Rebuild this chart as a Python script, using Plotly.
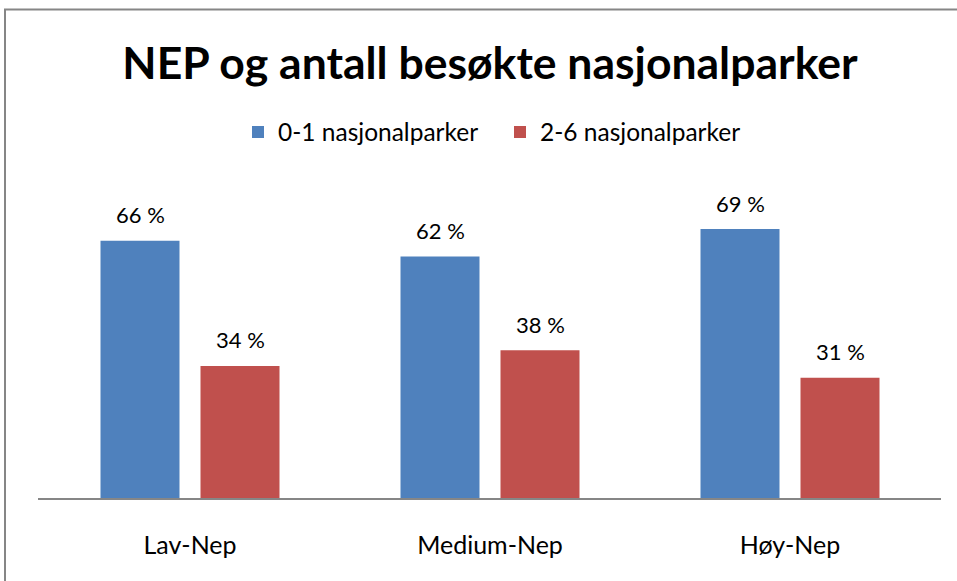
import plotly.graph_objects as go

categories = ["Lav-Nep", "Medium-Nep", "Høy-Nep"]
series_names = ["0-1 nasjonalparker", "2-6 nasjonalparker"]
values_01 = [66, 62, 69]
values_26 = [34, 38, 31]
colors = ["#4F81BD", "#C0504D"]

W, H = 957, 581
L, R = 40, 940
T, B = 186, 499
FONT = "Lato"

fig = go.Figure()
annotations = []
for i, (name, vals, c) in enumerate(zip(series_names, [values_01, values_26], colors)):
    fig.add_trace(go.Bar(
        x=categories, y=vals, name=name, marker_color=c,
        marker_line_width=0,
    ))
    for cat, v in zip(categories, vals):
        annotations.append(dict(
            x=cat, y=v, xref="x", yref="y", text=f"{v} %", showarrow=False,
            xshift=-50 if i == 0 else 50, yshift=26, yanchor="middle",
            font=dict(size=22, family=FONT, color="#000000"),
        ))

def px(xp):
    return (xp - L) / (R - L)

def py(yp):
    return (B - yp) / (B - T)

fig.update_layout(
    width=W, height=H,
    margin=dict(l=L, r=W - R, t=T, b=H - B),
    paper_bgcolor="white", plot_bgcolor="white",
    barmode="group", bargap=1/3, bargroupgap=0.21,
    font=dict(family=FONT, color="#000000"),
    title=dict(text="<b>NEP og antall besøkte nasjonalparker</b>",
               x=490 / W, xanchor="center", y=1 - 63 / H, yanchor="middle",
               font=dict(size=44.5, family=FONT, color="#000000")),
    legend=dict(orientation="h", x=px(500), xanchor="center",
                y=py(132), yanchor="middle",
                font=dict(size=24.5, family=FONT), itemwidth=30,
                entrywidth=217, entrywidthmode="pixels",
                traceorder="normal"),
    xaxis=dict(showline=False, ticks="", tickfont=dict(size=25, family=FONT),
               showgrid=False, ticklabelstandoff=29),
    yaxis=dict(range=[0, 80], visible=False, showgrid=False),
    showlegend=True,
    annotations=annotations,
    shapes=[
        dict(type="line", xref="paper", yref="paper", x0=px(38), x1=px(941),
             y0=0, y1=0, line=dict(color="#868686", width=2)),
        dict(type="rect", xref="paper", yref="paper", x0=px(5), x1=px(1000),
             y0=py(9.5), y1=py(640), line=dict(color="#868686", width=2),
             fillcolor="rgba(0,0,0,0)", layer="below"),
    ],
)

fig.write_html("out.html", config={"displayModeBar": False},
               post_script="document.body.style.margin='0';")
